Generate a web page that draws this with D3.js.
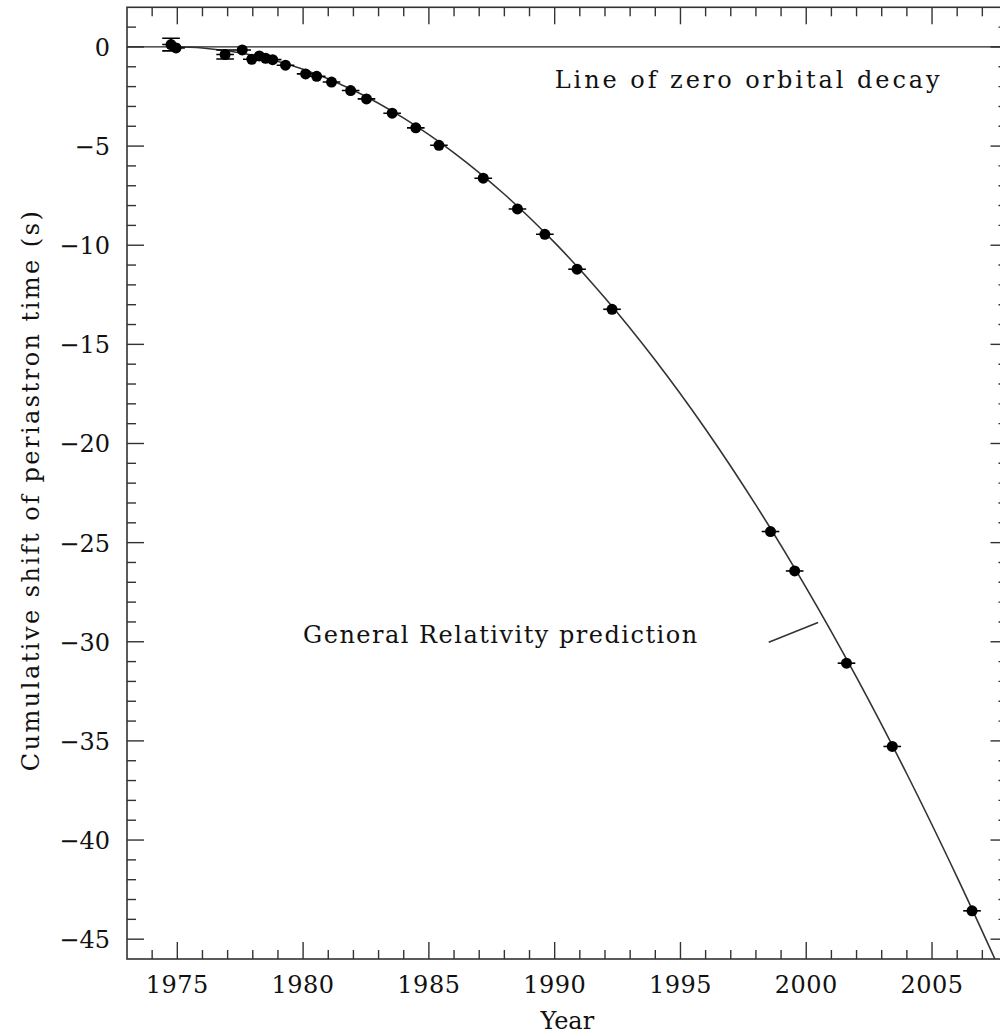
<!DOCTYPE html>
<head>
   <meta charset="utf-8">
   <script src="https://d3js.org/d3.v7.min.js"></script>
   <style>
      body { margin: 0; background: #ffffff; }
      text {
         font-family: "DejaVu Serif", serif;
         font-size: 24px;
         fill: #111111;
      }
      .frame { fill: none; stroke: #333333; stroke-width: 1.6; }
      .tick { stroke: #333333; stroke-width: 1.4; }
      .curve { fill: none; stroke: #333333; stroke-width: 1.6; }
      .zero { stroke: #222222; stroke-width: 1.3; }
      .err { stroke: #000000; stroke-width: 1.6; }
   </style>
</head>

<body>
   <script>
      const width = 1000;
      const height = 1034;

      // timing measurements (year, cumulative shift in s)
      const years = [1974.75, 1974.95, 1976.9, 1977.58, 1977.96, 1978.26, 1978.51, 1978.79, 1979.3,
         1980.1, 1980.54, 1981.13, 1981.89, 1982.52, 1983.54, 1984.48, 1985.4, 1987.16, 1988.52,
         1989.61, 1990.89, 1992.28, 1998.58, 1999.54, 2001.6, 2003.42, 2006.59];
      const shifts = [0.12, -0.05, -0.38, -0.15, -0.62, -0.45, -0.57, -0.64, -0.92,
         -1.36, -1.48, -1.77, -2.2, -2.62, -3.34, -4.08, -4.96, -6.62, -8.17,
         -9.45, -11.21, -13.23, -24.44, -26.43, -31.08, -35.28, -43.57];
      const shiftErrors = [0.32, 0, 0.23, 0, 0, 0, 0, 0, 0,
         0, 0, 0, 0, 0, 0, 0, 0, 0, 0,
         0, 0, 0, 0, 0, 0, 0, 0];
      const yearError = 0.35;

      // general relativity prediction
      const grYears = [1974.9, 1976, 1978, 1980, 1982, 1984, 1986, 1988, 1990, 1992,
         1994, 1996, 1998, 2000, 2002, 2004, 2006, 2007.5];
      const grShifts = [0, -0.05, -0.42, -1.13, -2.18, -3.59, -5.34, -7.43, -9.87, -12.66,
         -15.8, -19.28, -23.11, -27.28, -31.8, -36.67, -41.88, -46.0];

      const xTicks = [1975, 1980, 1985, 1990, 1995, 2000, 2005];
      const yTicks = [0, -5, -10, -15, -20, -25, -30, -35, -40, -45];

      const svg = d3.select('body').append('svg')
         .attr('width', width)
         .attr('height', height);

      const x = d3.scaleLinear().domain([1973, 2008]).range([127, 1007.5]);
      const y = d3.scaleLinear().domain([-46, 2]).range([959, 7.3]);

      const pLeft = x(1973), pRight = x(2008), pTop = y(2), pBottom = y(-46);

      svg.append('defs').append('clipPath').attr('id', 'plot')
         .append('rect')
         .attr('x', pLeft).attr('y', pTop)
         .attr('width', pRight - pLeft).attr('height', pBottom - pTop);

      // minor / major ticks on all four sides, pointing inward
      const xMinor = d3.range(1974, 2008, 1);
      const yMinor = d3.range(-45, 2, 1);
      const tickLen = v => (v % 5 === 0 ? 17 : 9);

      const ticks = svg.append('g');
      ticks.selectAll('line.xb').data(xMinor).enter().append('line')
         .attr('class', 'tick')
         .attr('x1', d => x(d)).attr('x2', d => x(d))
         .attr('y1', pBottom).attr('y2', d => pBottom - tickLen(d));
      ticks.selectAll('line.xt').data(xMinor).enter().append('line')
         .attr('class', 'tick')
         .attr('x1', d => x(d)).attr('x2', d => x(d))
         .attr('y1', pTop).attr('y2', d => pTop + tickLen(d));
      ticks.selectAll('line.yl').data(yMinor).enter().append('line')
         .attr('class', 'tick')
         .attr('y1', d => y(d)).attr('y2', d => y(d))
         .attr('x1', pLeft).attr('x2', d => pLeft + tickLen(d));
      ticks.selectAll('line.yr').data(yMinor).enter().append('line')
         .attr('class', 'tick')
         .attr('y1', d => y(d)).attr('y2', d => y(d))
         .attr('x1', pRight).attr('x2', d => pRight - tickLen(d));

      svg.append('rect')
         .attr('class', 'frame')
         .attr('x', pLeft).attr('y', pTop)
         .attr('width', pRight - pLeft).attr('height', pBottom - pTop);

      // tick labels
      svg.selectAll('text.xlab').data(xTicks).enter().append('text')
         .attr('class', 'xlab')
         .attr('x', d => x(d))
         .attr('y', 992.5)
         .style('text-anchor', 'middle')
         .style('letter-spacing', '0.5px')
         .text(d => d);

      svg.selectAll('text.ylab').data(yTicks).enter().append('text')
         .attr('class', 'ylab')
         .attr('x', pLeft - 17)
         .attr('y', d => y(d) + 9)
         .style('text-anchor', 'end')
         .text(d => (d < 0 ? '\u2212' + Math.abs(d) : d));

      svg.append('text')
         .attr('x', (pLeft + pRight) / 2)
         .attr('y', 1029)
         .style('text-anchor', 'middle')
         .text('Year');

      svg.append('text')
         .attr('transform', `translate(39, ${(pTop + pBottom) / 2 + 8}) rotate(-90)`)
         .style('text-anchor', 'middle')
         .attr('textLength', 560)
         .attr('lengthAdjust', 'spacing')
         .text('Cumulative shift of periastron time (s)');

      const plot = svg.append('g').attr('clip-path', 'url(#plot)');

      // line of zero orbital decay
      plot.append('line')
         .attr('class', 'zero')
         .attr('x1', pLeft).attr('x2', pRight)
         .attr('y1', y(0)).attr('y2', y(0));

      const grData = grYears.map((d, i) => ({ year: d, shift: grShifts[i] }));
      plot.append('path')
         .datum(grData)
         .attr('class', 'curve')
         .attr('d', d3.line().curve(d3.curveCatmullRom).x(d => x(d.year)).y(d => y(d.shift)));

      const points = years.map((d, i) => ({ year: d, shift: shifts[i], err: shiftErrors[i] }));

      plot.selectAll('line.xerr').data(points).enter().append('line')
         .attr('class', 'err')
         .attr('x1', d => x(d.year - yearError)).attr('x2', d => x(d.year + yearError))
         .attr('y1', d => y(d.shift)).attr('y2', d => y(d.shift));

      const withErr = points.filter(d => d.err > 0);
      plot.selectAll('line.yerr').data(withErr).enter().append('line')
         .attr('class', 'err')
         .attr('x1', d => x(d.year)).attr('x2', d => x(d.year))
         .attr('y1', d => y(d.shift - d.err)).attr('y2', d => y(d.shift + d.err));
      [-1, 1].forEach(s => {
         plot.selectAll('line.cap' + (s > 0 ? 'up' : 'down')).data(withErr).enter().append('line')
            .attr('class', 'err')
            .attr('x1', d => x(d.year - yearError)).attr('x2', d => x(d.year + yearError))
            .attr('y1', d => y(d.shift + s * d.err)).attr('y2', d => y(d.shift + s * d.err));
      });

      plot.selectAll('circle.pt').data(points).enter().append('circle')
         .attr('class', 'pt')
         .attr('cx', d => x(d.year))
         .attr('cy', d => y(d.shift))
         .attr('r', 5.5)
         .style('fill', '#000000');

      // annotations
      svg.append('text')
         .attr('x', x(1990.0))
         .attr('y', y(-2.07))
         .attr('textLength', 385)
         .attr('lengthAdjust', 'spacing')
         .text('Line of zero orbital decay');

      svg.append('text')
         .attr('x', x(1980.0))
         .attr('y', y(-30.07))
         .attr('textLength', 394)
         .attr('lengthAdjust', 'spacing')
         .text('General Relativity prediction');

      svg.append('line')
         .attr('class', 'curve')
         .attr('x1', x(1998.51)).attr('y1', y(-30.02))
         .attr('x2', x(2000.47)).attr('y2', y(-29.03));
   </script>
</body>
